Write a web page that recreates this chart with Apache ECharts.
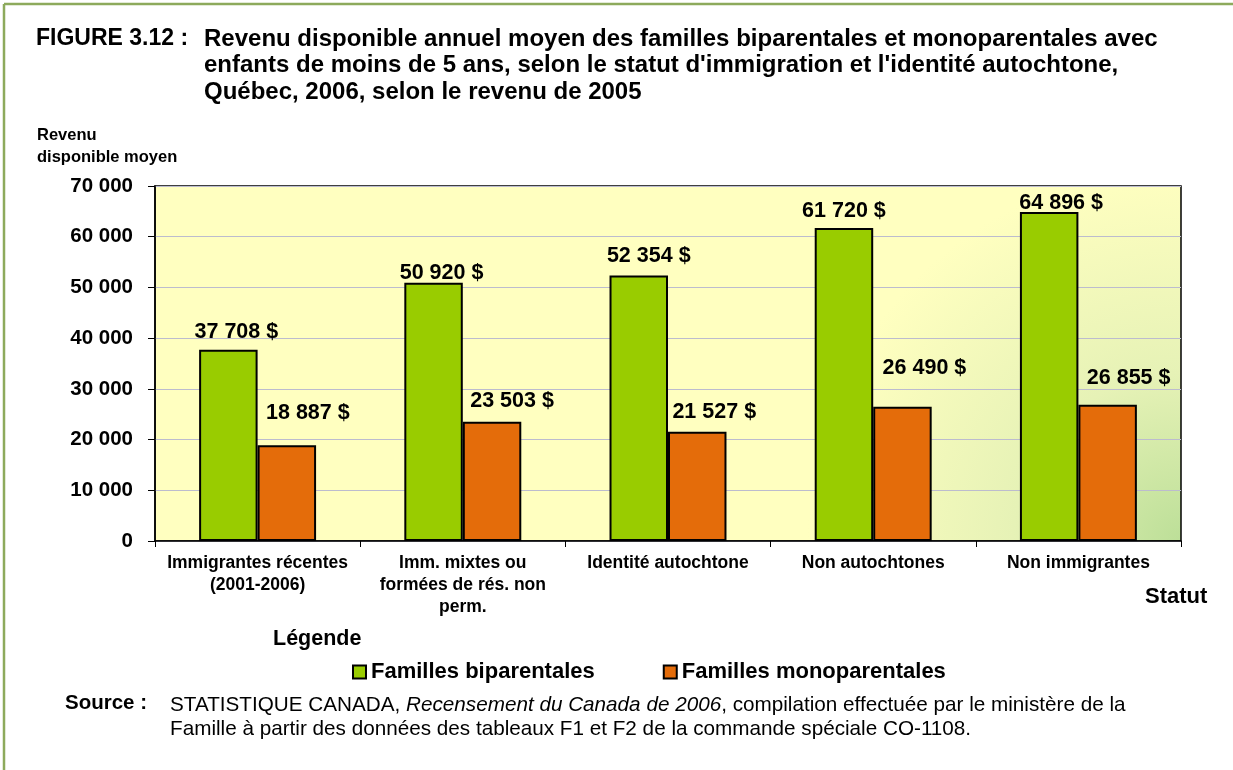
<!DOCTYPE html>
<html>
<head>
<meta charset="utf-8">
<title>Figure 3.12</title>
<script src="https://cdn.jsdelivr.net/npm/echarts@6/dist/echarts.min.js"></script>
<style>
  html, body { margin: 0; padding: 0; background: #fff; }
  #chart { width: 1233px; height: 770px; }
</style>
</head>
<body>
<div id="chart"></div>
<script>
// données
var categories = ['Immigrantes récentes\n(2001-2006)', 'Imm. mixtes ou\nformées de rés. non\nperm.', 'Identité autochtone', 'Non autochtones', 'Non immigrantes'];
var biparentales = [37708, 50920, 52354, 61720, 64896];
var monoparentales = [18887, 23503, 21527, 26490, 26855];
var yTicks = [0, 10000, 20000, 30000, 40000, 50000, 60000, 70000];

// décalage des étiquettes (à la main, comme dans l'original)
var offBi = [[8, -4], [8, 4], [10, -5], [0, -3], [12, 5]];
var offMono = [[21, -18], [20, -7], [17, -6], [22, -25], [21, -13]];

var FONT = 'Arial, "Liberation Sans", sans-serif';

function fmt(v) {
  return String(v).replace(/\B(?=(\d{3})+(?!\d))/g, ' ');
}

function mkData(vals, offs) {
  return vals.map(function (v, i) {
    return { value: v, label: { offset: offs[i] } };
  });
}

var chart = echarts.init(document.getElementById('chart'));

var option = {
  backgroundColor: '#fff',
  animation: false,
  textStyle: { fontFamily: FONT },
  grid: {
    left: 155, right: 52, top: 186, bottom: 229,
    show: true,
    borderColor: '#000',
    borderWidth: 1.5,
    backgroundColor: new echarts.graphic.RadialGradient(1, 1, 1.05, [
      { offset: 0, color: '#BCDF98' },
      { offset: 0.45, color: '#E6F2B6' },
      { offset: 1, color: '#FFFFC0' }
    ])
  },
  legend: {
    left: 347, top: 656,
    itemWidth: 13, itemHeight: 13,
    itemGap: 68,
    icon: 'rect',
    textStyle: { fontFamily: FONT, fontWeight: 'bold', fontSize: 22, color: '#000' },
    data: ['Familles biparentales', 'Familles monoparentales']
  },
  xAxis: {
    type: 'category',
    data: categories,
    axisLine: { lineStyle: { color: '#000', width: 1.5 } },
    axisTick: { show: true, length: 6, lineStyle: { color: '#000' } },
    axisLabel: {
      color: '#000', fontWeight: 'bold', fontSize: 17.5, fontFamily: FONT,
      margin: 11, lineHeight: 22, interval: 0
    }
  },
  yAxis: {
    type: 'value',
    min: yTicks[0], max: yTicks[yTicks.length - 1], interval: yTicks[1] - yTicks[0],
    axisLine: { show: true, lineStyle: { color: '#000', width: 1.5 } },
    axisTick: { show: true, length: 7, lineStyle: { color: '#000' } },
    splitLine: { lineStyle: { color: '#BCBCCE', width: 1.2 } },
    axisLabel: {
      color: '#000', fontWeight: 'bold', fontSize: 20.5, fontFamily: FONT,
      margin: 22,
      formatter: function (v) { return fmt(v); }
    }
  },
  series: [
    {
      name: 'Familles biparentales',
      type: 'bar',
      data: mkData(biparentales, offBi),
      barGap: '0%',
      barCategoryGap: '43%',
      itemStyle: { color: '#99CC00', borderColor: '#000', borderWidth: 2 },
      label: {
        show: true, position: 'top', distance: 3,
        color: '#000', fontWeight: 'bold', fontSize: 21.5, fontFamily: FONT,
        formatter: function (p) { return fmt(p.value) + ' $'; }
      }
    },
    {
      name: 'Familles monoparentales',
      type: 'bar',
      data: mkData(monoparentales, offMono),
      itemStyle: { color: '#E46C0A', borderColor: '#000', borderWidth: 2 },
      label: {
        show: true, position: 'top', distance: 3,
        color: '#000', fontWeight: 'bold', fontSize: 21.5, fontFamily: FONT,
        formatter: function (p) { return fmt(p.value) + ' $'; }
      }
    }
  ],
  graphic: [
    // cadre
    { type: 'line', shape: { x1: 4, y1: 4, x2: 1233, y2: 4 }, style: { stroke: '#8DAA5C', lineWidth: 2.5 } },
    { type: 'line', shape: { x1: 4, y1: 4, x2: 4, y2: 770 }, style: { stroke: '#8DAA5C', lineWidth: 2.5 } },
    // titre
    {
      type: 'text', left: 36, top: 27,
      style: { text: 'FIGURE 3.12 :', font: 'bold 23px ' + FONT, fill: '#000' }
    },
    {
      type: 'text', left: 204, top: 26,
      style: {
        text: 'Revenu disponible annuel moyen des familles biparentales et monoparentales avec\nenfants de moins de 5 ans, selon le statut d\'immigration et l\'identité autochtone,\nQuébec, 2006, selon le revenu de 2005',
        font: 'bold 24px ' + FONT, fill: '#000', lineHeight: 26.5
      }
    },
    // titre de l'axe y
    {
      type: 'text', left: 37, top: 124,
      style: { text: 'Revenu\ndisponible moyen', font: 'bold 16.5px ' + FONT, fill: '#000', lineHeight: 22 }
    },
    // titre de l'axe x
    {
      type: 'text', left: 1145, top: 586,
      style: { text: 'Statut', font: 'bold 22px ' + FONT, fill: '#000' }
    },
    {
      type: 'text', left: 273, top: 628,
      style: { text: 'Légende', font: 'bold 21.5px ' + FONT, fill: '#000' }
    },
    // source
    {
      type: 'text', left: 65, top: 693,
      style: { text: 'Source :', font: 'bold 20.5px ' + FONT, fill: '#000' }
    },
    {
      type: 'text', left: 170, top: 693,
      style: {
        text: 'STATISTIQUE CANADA, {i|Recensement du Canada de 2006}, compilation effectuée par le ministère de la\nFamille à partir des données des tableaux F1 et F2 de la commande spéciale CO-1108.',
        font: '20.7px ' + FONT, fill: '#000', lineHeight: 24,
        rich: { i: { fontStyle: 'italic', fontSize: 20.7, fontFamily: FONT, lineHeight: 24 } }
      }
    }
  ]
};

chart.setOption(option);
</script>
</body>
</html>
